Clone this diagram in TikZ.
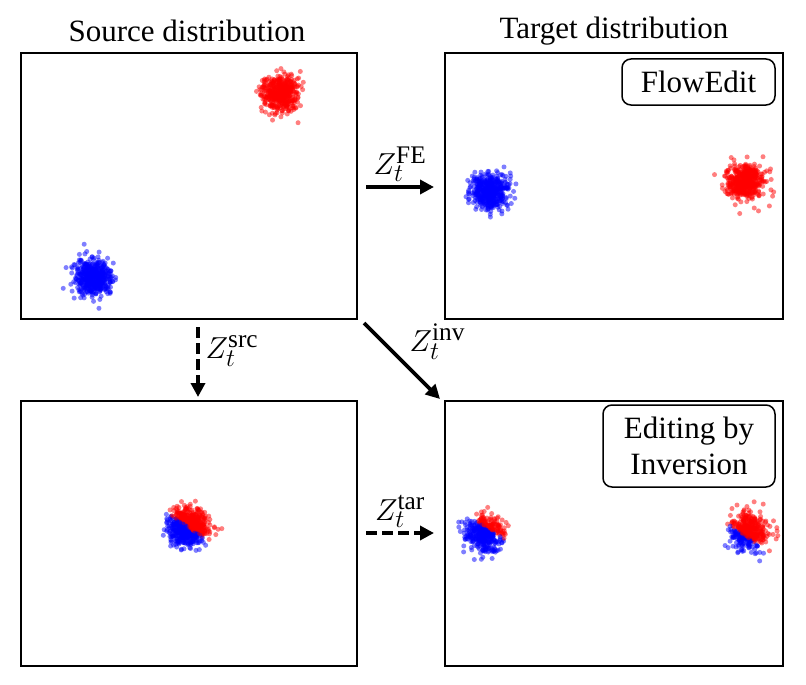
\documentclass[tikz,border=0pt]{standalone}
\usepackage{fontspec}
\setmainfont{Liberation Serif}
\usetikzlibrary{arrows.meta}
\newcommand\mycloud[5]{%
  \foreach \i in {1,...,#4}{%
    \pgfmathsetmacro\myUa{0.0005+0.9995*rnd}%
    \pgfmathsetmacro\myUb{360*rnd}%
    \pgfmathsetmacro\myRr{#3*sqrt(-2*ln(\myUa))}%
    \fill[#5,dot] ({#1+\myRr*cos(\myUb)},{#2+\myRr*sin(\myUb)}) circle[radius=2.5pt];
  }}
\newcommand\mysplit[5]{%
  \foreach \i in {1,...,#4}{%
    \pgfmathsetmacro\myUa{0.0005+0.9995*rnd}%
    \pgfmathsetmacro\myUb{360*rnd}%
    \pgfmathsetmacro\myRr{sqrt(-2*ln(\myUa))}%
    \pgfmathsetmacro\myDx{\myRr*cos(\myUb)}%
    \pgfmathsetmacro\myDy{\myRr*sin(\myUb)}%
    \pgfmathsetmacro\myPp{(0.8*\myDx-1.2*\myDy)/1.4422}%
    \ifdim\myPp pt>#5pt \def\myCol{red}\else\def\myCol{blue}\fi
    \fill[\myCol,dot] ({#1+#3*\myDx},{#2+#3*\myDy}) circle[radius=2.5pt];
  }}
\begin{document}
\begin{tikzpicture}[x=1pt,y=-1pt,
  dot/.style={fill opacity=0.5},
  panel/.style={draw, line width=1.6pt, minimum width=336pt, minimum height=266pt, inner sep=0pt},
  tag/.style={draw, line width=1.5pt, rounded corners=9pt, align=center, inner sep=0pt,
    font=\fontsize{31}{36}\selectfont},
  title/.style={font=\fontsize{31}{34}\selectfont},
  lab/.style={font=\fontsize{24.88}{30}\selectfont, scale=1.22, inner sep=1.5pt},
  arr/.style={line width=3.6pt, -{Triangle[length=14pt,width=14pt]}},
  darr/.style={arr, dash pattern=on 11pt off 5pt}]
\useasboundingbox (0,0) rectangle (806,685);
\pgfmathsetseed{12345}
% panels
\node[panel] (tl) at (189,186) {};
\node[panel, minimum width=338pt] (tr) at (614,186) {};
\node[panel, minimum height=265pt] (bl) at (189,533.5) {};
\node[panel, minimum width=338pt, minimum height=265pt] (br) at (614,533.5) {};
% titles
\node[title] (srct) at (187,31) {Source distribution};
\node[title] (tart) at (614,31) {Target distribution};
% clouds
\mycloud{280}{93}{9}{500}{red}
\mycloud{93}{278}{9}{500}{blue}
\mycloud{490}{191}{9}{500}{blue}
\mycloud{745}{182}{9}{500}{red}
\mysplit{188}{527}{9}{800}{0}
\mysplit{484}{534}{9}{450}{0.75}
\mysplit{749}{532}{9}{450}{-0.6}
% tags
\node[tag, minimum width=153pt, minimum height=46pt] (fe) at (698.5,82) {FlowEdit};
\node[tag, minimum width=172pt, minimum height=82pt] (ei) at (689,446) {Editing by\\Inversion};
% arrow coordinates
\coordinate (feA) at (366,187);
\coordinate (feB) at (434,187);
\coordinate (srcA) at (198,327);
\coordinate (srcB) at (198,397);
\coordinate (invA) at (364,323);
\coordinate (invB) at (440,399);
\coordinate (tarA) at (366,533);
\coordinate (tarB) at (434,533);
\draw[arr] (feA) -- node[lab, above, yshift=1pt] (feL) {$Z_t^{\mathrm{FE}}$} (feB);
\draw[darr] (srcA) -- node[lab, right, yshift=9pt, xshift=3pt] (srcL) {$Z_t^{\mathrm{src}}$} (srcB);
\draw[arr] (invA) -- node[lab, above right, xshift=3pt, yshift=-2pt] (invL) {$Z_t^{\mathrm{inv}}$} (invB);
\draw[darr] (tarA) -- node[lab, above, yshift=1pt] (tarL) {$Z_t^{\mathrm{tar}}$} (tarB);
\end{tikzpicture}
\end{document}
